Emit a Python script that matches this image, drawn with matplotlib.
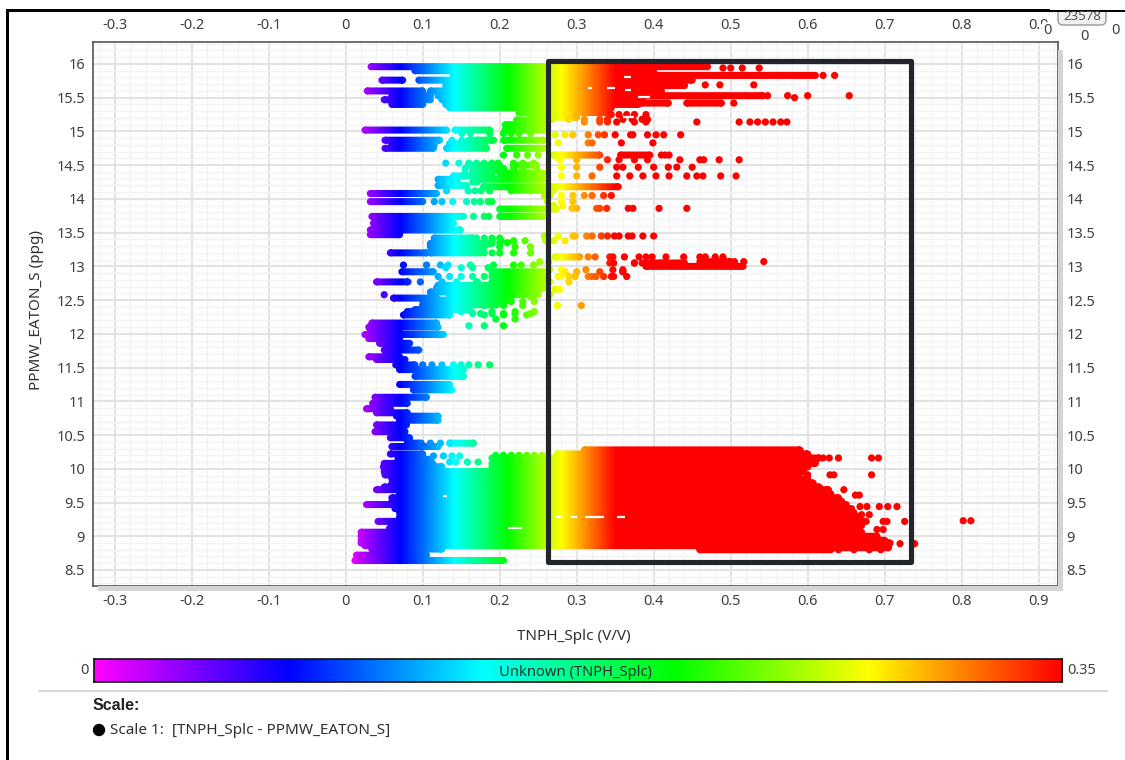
#!/usr/bin/env python3
import numpy as np
import matplotlib
matplotlib.use('Agg')
import matplotlib.pyplot as plt
from matplotlib.colors import LinearSegmentedColormap
from matplotlib.patches import Rectangle, Circle, FancyBboxPatch
from matplotlib.path import Path
from matplotlib.transforms import Affine2D

plt.rcParams['font.family'] = ['Noto Sans', 'DejaVu Sans']

x_ticks = [-0.3, -0.2, -0.1, 0, 0.1, 0.2, 0.3, 0.4, 0.5, 0.6, 0.7, 0.8, 0.9]
x_tick_labels = ['-0.3', '-0.2', '-0.1', '0', '0.1', '0.2', '0.3', '0.4', '0.5', '0.6', '0.7', '0.8', '0.9']
y_ticks = [8.5, 9, 9.5, 10, 10.5, 11, 11.5, 12, 12.5, 13, 13.5, 14, 14.5, 15, 15.5, 16]
y_tick_labels = ['8.5', '9', '9.5', '10', '10.5', '11', '11.5', '12', '12.5', '13', '13.5', '14', '14.5', '15', '15.5', '16']

run_y = [15.96, 15.90, 15.83, 15.76, 15.76, 15.68, 15.60, 15.60, 15.53, 15.53, 15.47, 15.47,
         15.40, 15.40, 15.42, 15.42, 15.42, 15.35, 15.28, 15.21,
         15.17, 15.10, 15.02, 15.02, 15.02, 14.87, 14.87, 14.87, 14.80, 14.75, 14.75, 14.75,
         14.65, 14.65, 14.50, 14.50, 14.38, 14.29, 14.29, 14.20, 14.18, 14.13,
         14.08, 13.96, 13.85, 13.74, 13.74, 13.64, 13.54, 13.47, 13.34, 13.29, 13.20, 13.20,
         13.14, 13.00, 13.05, 13.07, 12.92, 12.92, 12.85, 12.77, 12.77, 12.68, 12.58, 12.53, 12.43,
         12.33, 12.28, 12.16, 12.10, 12.06, 11.99, 11.99, 11.93, 11.86, 11.76, 11.66, 11.62,
         11.54, 11.47, 11.37, 11.25, 11.17, 11.06, 10.97, 10.89, 10.83, 10.78, 10.72, 10.65,
         10.55, 10.46, 10.38, 10.38, 10.33,
         10.28, 10.22, 10.22, 10.16, 10.14, 10.08, 10.08, 10.03, 10.03, 9.96, 9.91, 9.85, 9.79,
         9.73, 9.69, 9.63, 9.57, 9.52, 9.47, 9.41, 9.35, 9.29, 9.22, 9.16, 9.12, 9.06, 9.00,
         8.94, 8.90, 8.86, 8.83, 8.81, 8.80, 8.72, 8.64,
         12.72, 12.62, 12.50, 12.36, 14.42, 14.34, 14.82, 13.42]
run_x0 = [.033, .09, .14, .047, .095, .13, .028, .11, .06, .12, .05, .125,
          .06, .13, .357, .378, .443, .135, .225, .24,
          .222, .207, .025, .142, .207, .051, .16, .205, .06, .051, .131, .209,
          .27, .357, .159, .218, .20, .12, .17, .12, .179, .215,
          .032, .032, .20, .034, .20, .036, .032, .032, .11, .11, .058, .11,
          .272, .39, .39, .46, .073, .19, .19, .04, .19, .118, .135, .062, .10,
          .08, .075, .034, .03, .032, .025, .07, .03, .044, .05, .03, .04,
          .065, .07, .09, .07, .088, .038, .035, .027, .04, .066, .07, .04,
          .038, .058, .08, .136, .06,
          .31, .058, .275, .19, .068, .05, .19, .049, .19, .05, .051, .06, .06,
          .05, .04, .07, .06, .06, .027, .064, .07, .07, .042, .06, .057, .02, .02,
          .02, .02, .025, .46, .034, .46, .014, .012,
          .12, .11, .10, .09, .165, .14, .135, .115]
run_x1 = [.47, .40, .61, .074, .45, .44, .10, .41, .11, .542, .11, .385,
          .10, .38, .373, .419, .488, .345, .34, .30,
          .257, .257, .131, .187, .257, .122, .19, .257, .115, .114, .183, .257,
          .33, .395, .20, .248, .257, .144, .257, .157, .354, .27,
          .118, .10, .274, .153, .257, .14, .149, .07, .19, .18, .105, .175,
          .304, .516, .44, .50, .114, .257, .257, .081, .257, .257, .25, .118, .196,
          .135, .135, .118, .12, .07, .066, .127, .07, .083, .095, .07, .077,
          .09, .153, .153, .135, .138, .105, .08, .058, .08, .12, .12, .079,
          .077, .083, .095, .166, .12,
          .59, .10, .60, .615, .11, .113, .61, .125, .595, .595, .588, .60, .607,
          .615, .627, .63, .64, .644, .65, .657, .66, .665, .676, .67, .665, .67, .69,
          .70, .707, .705, .705, .125, .63, .105, .205,
          .19, .25, .21, .16, .20, .19, .18, .165]

# single readable points, one list of tnph values per ppg row
dot_rows_y = [15.94, 15.83, 15.69, 15.53, 15.50, 15.42, 15.25, 15.18, 15.14,
              14.95, 14.83, 14.65, 14.58, 14.47, 14.34,
              14.12, 14.05, 13.96, 13.90, 13.86, 13.74, 13.45, 13.38, 13.29, 13.14, 13.07, 13.05,
              13.02, 12.95, 12.92, 12.85, 12.77, 12.66, 12.58, 12.55, 12.42, 12.33, 12.28, 12.22, 12.12,
              11.54, 10.38, 10.19, 10.10, 10.16, 10.03, 9.91, 9.69, 9.61, 9.44, 9.32, 9.23, 9.22,
              9.10, 8.89, 8.80,
              14.97, 14.87, 14.65, 14.53, 14.45, 14.38, 14.25, 13.42, 13.20, 13.35, 12.98, 12.85,
              12.30, 12.48, 10.20]
dot_rows_x = [[.49, .50, .515, .537], [.62, .635], [.467, .486, .53], [.548, .574, .60, .654], [.583], [.504],
              [.27, .285, .30, .345, .355, .365, .375, .39], [.268, .29, .31, .33, .34, .36, .372, .385, .392],
              [.31, .33, .34, .352, .375, .39, .456, .511, .525, .535, .545, .555, .565, .573],
              [.272, .285, .295, .315, .328, .336, .35, .37, .373, .392, .403, .413, .435],
              [.276, .315, .32, .358, .399],
              [.41, .415, .42],
              [.278, .30, .34, .355, .375, .392, .434, .46, .465, .485, .511],
              [.28, .30, .33, .352, .36, .38, .40, .419, .43, .45],
              [.28, .30, .32, .352, .369, .386, .403, .42, .443, .456, .464, .487, .507],
              [.131, .159, .168, .176, .187, .215, .24],
              [.258, .265, .28, .295, .31, .32, .335, .345],
              [.115, .125, .139, .157, .167, .175, .185, .19, .262, .28, .295],
              [.27, .282],
              [.294, .30, .326, .33, .339, .367, .373, .407, .443],
              [.166, .18, .186],
              [.258, .276, .295, .298, .313, .32, .332, .34, .349, .355, .367, .372, .386, .4],
              [.157, .19, .202, .218, .233, .26, .27, .285],
              [.20, .22, .24],
              [.315, .324, .343, .347, .362, .381, .39, .398, .416, .439, .46, .467, .48, .49],
              [.252, .264, .48, .49, .505, .517, .543],
              [.343, .348, .375, .385, .375, .41],
              [.075, .105, .123, .133, .162, .192, .218, .228, .244],
              [.265, .28, .312, .347, .36],
              [.26, .285, .30, .33, .36, .36],
              [.276, .28, .29, .298, .315, .32, .325, .335, .345, .348, .365],
              [.097, .125, .144, .17, .171, .25, .265, .29],
              [.272, .278],
              [.05, .21, .23, .245, .265],
              [.17, .19, .215, .24],
              [.275, .306, .18, .205, .23],
              [.15, .163, .19, .22, .245],
              [.18, .205, .235],
              [.195, .22],
              [.16, .18, .205],
              [.10, .112, .125, .14, .15, .16, .172, .187],
              [.098, .11, .123, .135],
              [.114, .127, .138, .148],
              [.135, .143, .158, .172],
              [.62, .628, .64, .683, .692],
              [.60],
              [.60, .629, .634, .683],
              [.647],
              [.662, .667],
              [.668, .677, .693, .704, .716],
              [.67, .68],
              [.802, .812],
              [.698, .703, .726],
              [.69, .698],
              [.72, .739],
              [.64, .66, .68, .695],
              [.151, .162, .187, .205, .215, .225, .24],
              [.138, .151, .163, .172, .183, .192],
              [.205, .222, .236, .25],
              [.13, .147, .16, .17, .18, .19, .198, .218, .23, .244],
              [.155, .179, .205, .218, .23, .248],
              [.155, .165, .18],
              [.125, .135, .145, .165, .17],
              [.17, .18, .19, .20],
              [.18, .19, .20, .218, .24],
              [.20, .21],
              [.13, .15, .165, .185],
              [.12, .135, .15, .165, .18],
              [.165, .175, .19, .205, .22, .24],
              [.215, .23, .245],
              [.195, .205, .215, .225, .235, .245, .255, .262]]

# small holes left open inside the dense areas: ppg, tnph from, tnph to
gap_y = [9.29, 9.29, 9.29, 9.29, 9.12, 9.60, 15.81, 15.61, 15.51, 15.64, 15.64, 15.30, 15.21]
gap_x0 = [.273, .293, .311, .353, .211, .126, .362, .363, .38, .34, .315, .40, .36]
gap_x1 = [.281, .30, .335, .363, .229, .131, .37, .371, .395, .35, .32, .42, .375]

bar_low = 0
bar_high = 0.35
box_x = [0.2631, 0.7340]
box_y = [8.62, 16.04]

dot_x = [v for row in dot_rows_x for v in row]
dot_y = [y for y, row in zip(dot_rows_y, dot_rows_x, strict=True) for v in row]

W, H = 1125, 760


def px_rect(left, top, right, bottom):
    return [left / W, 1 - bottom / H, (right - left) / W, (bottom - top) / H]


rainbow = LinearSegmentedColormap.from_list(
    'rainbow_scale',
    [(0, '#ff00ff'), (0.2, '#0000ff'), (0.4, '#00ffff'), (0.6, '#00ff00'), (0.8, '#ffff00'), (1, '#ff0000')])

fig = plt.figure(figsize=(W / 100, H / 100), dpi=100)
fig.patch.set_facecolor('white')

# shadow behind the plot area
fig.add_artist(Rectangle((1058 / W, 1 - 590 / H), 5 / W, 540 / H, transform=fig.transFigure,
                         fc='#d4d4d4', ec='none'))
fig.add_artist(Rectangle((98 / W, 1 - 591 / H), 965 / W, 5 / H, transform=fig.transFigure,
                         fc='#d4d4d4', ec='none'))

ax = fig.add_axes(px_rect(93.3, 41.7, 1058.3, 585.7))
ax.set_xlim(-0.3278, 0.9255)
ax.set_ylim(8.267, 16.33)

ax.set_xticks(x_ticks)
ax.set_xticklabels(x_tick_labels)
ax.set_yticks(y_ticks)
ax.set_yticklabels(y_tick_labels)
ax.set_xticks(np.arange(-0.32, 0.93, 0.02), minor=True)
ax.set_yticks(np.arange(8.3, 16.33, 0.1), minor=True)
ax.tick_params(which='both', length=0, labeltop=True, labelright=True, labelsize=10.5, colors='#404040', pad=6)
ax.grid(True, which='minor', color='#f3f3f3', lw=1)
ax.grid(True, which='major', color='#e2e2e2', lw=1.5)
ax.set_axisbelow(True)
for s in ax.spines.values():
    s.set_color('#555555')
    s.set_linewidth(1.2)

# colour only depends on tnph, so the dense runs are one gradient clipped to their shape
rx, ry = 0.0046, 0.052
pieces = []
for y, x0, x1 in zip(run_y, run_x0, run_x1, strict=True):
    pieces.append(Path.unit_rectangle().transformed(Affine2D().scale(x1 - x0, 2 * ry).translate(x0, y - ry)))
    for xc in (x0, x1):
        pieces.append(Path.unit_circle().transformed(Affine2D().scale(rx, ry).translate(xc, y)))
runs_path = Path.make_compound_path(*pieces)

grad = ax.imshow(np.linspace(0, 1, 1200)[None, :], extent=(0, 1, 8, 17), aspect='auto', origin='lower',
                 cmap=rainbow, vmin=bar_low, vmax=bar_high, zorder=2)
grad.set_clip_path(runs_path, transform=ax.transData)
ax.set_xlim(-0.3278, 0.9255)
ax.set_ylim(8.267, 16.33)

ax.scatter(dot_x, dot_y, c=dot_x, cmap=rainbow, vmin=bar_low, vmax=bar_high, s=27, linewidths=0, zorder=3)
ax.hlines(gap_y, gap_x0, gap_x1, color='white', lw=1.6, zorder=4)

ax.add_patch(Rectangle((box_x[0], box_y[0]), box_x[1] - box_x[0], box_y[1] - box_y[0], fill=False,
                       ec='#22262c', lw=3.7, joinstyle='round', zorder=5))

fig.text(574 / W, 1 - 636 / H, 'TNPH_Splc (V/V)', ha='center', va='center', fontsize=11, color='#303030')
fig.text(37 / W, 1 - 310 / H, 'PPMW_EATON_S (ppg)', ha='center', va='center', rotation=90, fontsize=11, color='#303030')

# colour bar
cax = fig.add_axes(px_rect(93.5, 659, 1062, 682))
cax.imshow(np.linspace(0, 1, 512)[None, :], aspect='auto', cmap=rainbow)
cax.set_xticks([])
cax.set_yticks([])
for s in cax.spines.values():
    s.set_color('#111111')
    s.set_linewidth(1.2)
fig.text(575 / W, 1 - 672 / H, 'Unknown (TNPH_Splc)', ha='center', va='center', fontsize=10.6, color='#303030')
fig.text(84 / W, 1 - 671 / H, str(bar_low), ha='center', va='center', fontsize=10.5, color='#404040')
fig.text(1067 / W, 1 - 671 / H, str(bar_high), ha='left', va='center', fontsize=10.5, color='#404040')

# legend and separator
fig.add_artist(Rectangle((38 / W, 1 - 691.5 / H), 1070 / W, 2 / H, transform=fig.transFigure, fc='#d8d8d8', ec='none'))
fig.text(93 / W, 1 - 706 / H, 'Scale:', ha='left', va='center', fontsize=11.5, fontweight='bold',
         family='Liberation Sans', color='#222222')
fig.add_artist(Circle((99, H - 730), 6.2, transform=None, fc='black', ec='none'))
fig.text(110 / W, 1 - 730 / H, 'Scale 1:  [TNPH_Splc - PPMW_EATON_S]', ha='left', va='center', fontsize=11, color='#303030')

# window frame
fig.add_artist(Rectangle((6 / W, 0), 2.5 / W, 1 - 10 / H, transform=fig.transFigure, fc='black', ec='none'))
fig.add_artist(Rectangle((6 / W, 1 - 11.5 / H), 1119 / W, 2 / H, transform=fig.transFigure, fc='black', ec='none'))

# leftovers of the badge in the corner
fig.add_artist(FancyBboxPatch((1060, H - 23), 44, 14, boxstyle='round,pad=2,rounding_size=5', transform=None,
                              fc='#f0f0f0', ec='#999999', lw=1))
fig.add_artist(Rectangle((1050 / W, 1 - 11.5 / H), 75 / W, 2 / H, transform=fig.transFigure, fc='black', ec='none'))
fig.add_artist(Rectangle((1050 / W, 1 - 9.5 / H), 75 / W, 9.5 / H, transform=fig.transFigure, fc='white', ec='none'))
fig.text(1082 / W, 1 - 16 / H, '23578', ha='center', va='center', fontsize=9.5, color='#555555')
fig.text(1047 / W, 1 - 30 / H, '0', ha='center', va='center', fontsize=10.5, color='#404040',
         bbox=dict(fc='white', ec='none', pad=0.5))
fig.text(1084 / W, 1 - 36 / H, '0', ha='center', va='center', fontsize=10.5, color='#404040')
fig.text(1115 / W, 1 - 30 / H, '0', ha='center', va='center', fontsize=10.5, color='#404040')

fig.savefig('out.png', dpi=100)
